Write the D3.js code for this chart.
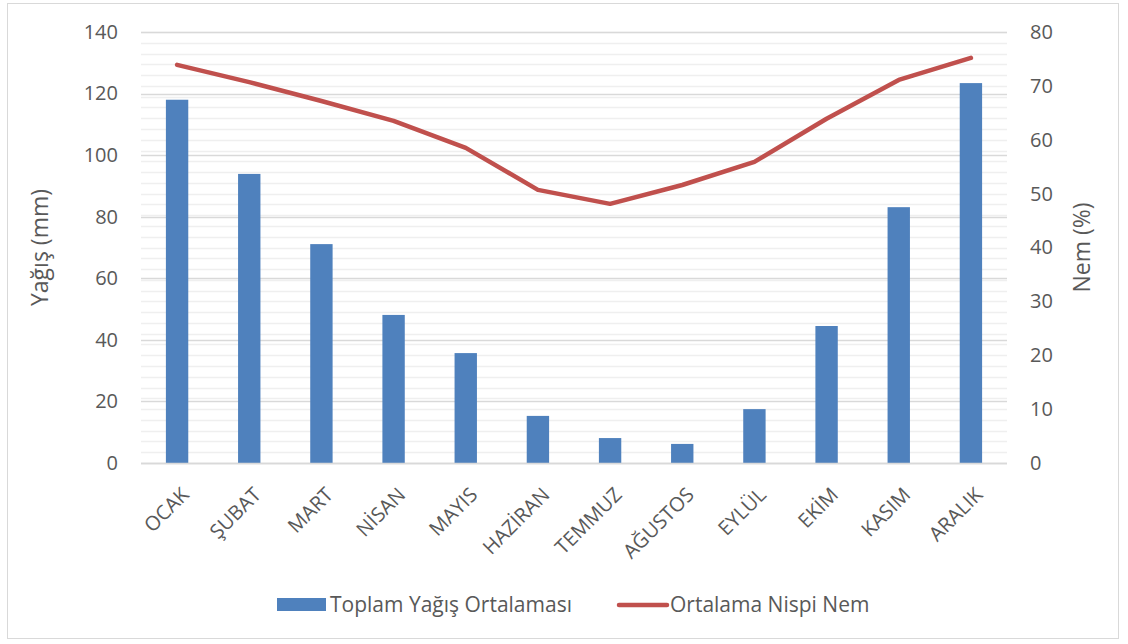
<!DOCTYPE html>
<html><head><meta charset="utf-8">
<script src="https://cdn.jsdelivr.net/npm/d3@7"></script>
<style>body{margin:0;background:#fff}svg{display:block}text{font-family:"Open Sans",sans-serif;fill:#595959}</style>
</head><body><svg id="c" width="1128" height="644"></svg>
<script>
const months = ["OCAK","ŞUBAT","MART","NİSAN","MAYIS","HAZİRAN","TEMMUZ","AĞUSTOS","EYLÜL","EKİM","KASIM","ARALIK"];
const rainfall = [118, 93.9, 71.1, 48.1, 35.7, 15.3, 8.1, 6.2, 17.5, 44.5, 83.1, 123.4];
const humidity = [73.9, 70.7, 67.2, 63.5, 58.5, 50.7, 48.1, 51.6, 55.9, 63.9, 71.1, 75.2];
const leftTicks = [0,20,40,60,80,100,120,140];
const rightTicks = [0,10,20,30,40,50,60,70,80];
const seriesNames = ["Toplam Yağış Ortalaması","Ortalama Nispi Nem"];
const axisTitles = ["Yağış (mm)","Nem (%)"];

const svg = d3.select("#c");
const L=141, R=1007, T=32, B=463;
svg.append("rect").attr("x",7.5).attr("y",3.5).attr("width",1111).attr("height",635)
  .attr("fill","#fff").attr("stroke","#d9d9d9");

const x = d3.scaleBand().domain(months).range([L,R]).paddingInner(0.69).paddingOuter(0.345);
const yL = d3.scaleLinear().domain([0,140]).range([B,T]);
const yR = d3.scaleLinear().domain([0,80]).range([B,T]);

const minor = d3.range(0,81,2);
svg.append("g").selectAll("line").data(minor).join("line")
  .attr("x1",L).attr("x2",R).attr("y1",d=>Math.round(yR(d))+0.5).attr("y2",d=>Math.round(yR(d))+0.5)
  .attr("stroke","#efefef").attr("stroke-width",1.5);
svg.append("g").selectAll("line").data(leftTicks).join("line")
  .attr("x1",L).attr("x2",R).attr("y1",d=>Math.round(yL(d))+0.5).attr("y2",d=>Math.round(yL(d))+0.5)
  .attr("stroke","#d9d9d9").attr("stroke-width",1.5);

svg.append("g").selectAll("rect").data(rainfall).join("rect")
  .attr("x",(d,i)=>x(months[i])).attr("width",x.bandwidth())
  .attr("y",d=>yL(d)).attr("height",d=>B-yL(d)).attr("fill","#4f81bd");

const line = d3.line().x((d,i)=>x(months[i])+x.bandwidth()/2).y(d=>yR(d));
svg.append("path").datum(humidity).attr("d",line).attr("fill","none")
  .attr("stroke","#c0504d").attr("stroke-width",4.5).attr("stroke-linecap","round").attr("stroke-linejoin","round");

const axL = svg.append("g").attr("transform",`translate(${L},0)`)
  .call(d3.axisLeft(yL).tickValues(leftTicks).tickSize(0).tickPadding(23));
axL.select(".domain").remove();
axL.selectAll("text").style("font-size","20px").attr("fill","#595959");
const axR = svg.append("g").attr("transform",`translate(${R},0)`)
  .call(d3.axisRight(yR).tickValues(rightTicks).tickSize(0).tickPadding(23));
axR.select(".domain").remove();
axR.selectAll("text").style("font-size","20px").attr("fill","#595959");

const axB = svg.append("g").attr("transform",`translate(0,${B})`)
  .call(d3.axisBottom(x).tickSize(0).tickPadding(0));
axB.select(".domain").remove();
axB.selectAll("text").style("font-size","20px").attr("fill","#595959")
  .attr("text-anchor","end").attr("dy","0").attr("dx","0")
  .attr("transform","translate(13,33) rotate(-45)");

svg.append("line").attr("x1",L).attr("x2",R).attr("y1",B+0.5).attr("y2",B+0.5).attr("stroke","#d9d9d9").attr("stroke-width",1.5);

svg.append("text").attr("transform",`translate(40,${(T+B)/2}) rotate(-90)`).attr("text-anchor","middle")
  .attr("dy","0.35em").style("font-size","23px").text(axisTitles[0]);
svg.append("text").attr("transform",`translate(1082,${(T+B)/2}) rotate(-90)`).attr("text-anchor","middle")
  .attr("dy","0.35em").style("font-size","23px").text(axisTitles[1]);

const lg = svg.append("g");
lg.append("rect").attr("x",277).attr("y",598).attr("width",49).attr("height",13).attr("fill","#4f81bd");
lg.append("text").attr("x",330).attr("y",605).attr("dy","0.35em").style("font-size","21px").text(seriesNames[0]);
lg.append("line").attr("x1",619).attr("x2",667).attr("y1",605).attr("y2",605).attr("stroke","#c0504d")
  .attr("stroke-width",4.5).attr("stroke-linecap","round");
lg.append("text").attr("x",670).attr("y",605).attr("dy","0.35em").style("font-size","21px").text(seriesNames[1]);
</script></body></html>
